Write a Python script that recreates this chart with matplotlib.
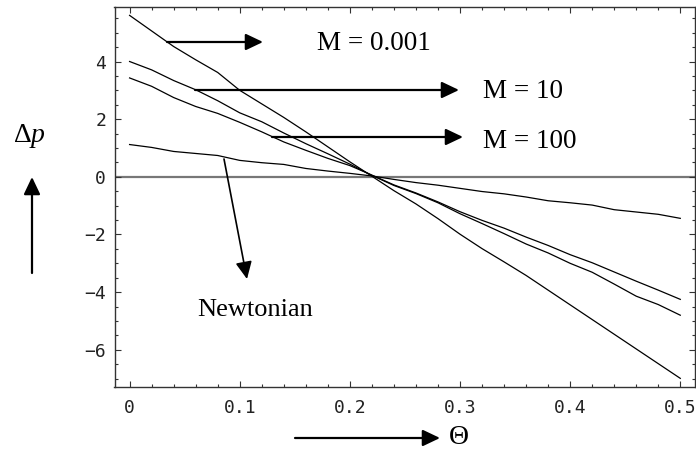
import matplotlib
matplotlib.use("Agg")
import matplotlib.pyplot as plt
from matplotlib.ticker import MultipleLocator

# ---- data ----
theta = [0.00, 0.02, 0.04, 0.06, 0.08, 0.10, 0.12, 0.14, 0.16, 0.18, 0.20, 0.22, 0.24,
         0.26, 0.28, 0.30, 0.32, 0.34, 0.36, 0.38, 0.40, 0.42, 0.44, 0.46, 0.48, 0.50]

dp_M0001 = [5.60, 5.06, 4.52, 4.06, 3.62, 3.00, 2.53, 2.06, 1.56, 1.04, 0.52, 0.02, -0.48,
            -0.94, -1.45, -1.99, -2.49, -2.95, -3.42, -3.93, -4.44, -4.95, -5.46, -5.97, -6.48, -6.99]

dp_M10 = [4.00, 3.71, 3.34, 3.02, 2.64, 2.22, 1.91, 1.52, 1.15, 0.80, 0.44, 0.05, -0.30,
          -0.58, -0.90, -1.28, -1.62, -1.97, -2.33, -2.64, -3.00, -3.31, -3.72, -4.14, -4.43, -4.80]

dp_M100 = [3.43, 3.14, 2.75, 2.44, 2.20, 1.89, 1.56, 1.21, 0.92, 0.64, 0.39, 0.06, -0.28,
           -0.56, -0.87, -1.21, -1.51, -1.78, -2.09, -2.38, -2.70, -2.98, -3.30, -3.62, -3.93, -4.25]

dp_newtonian = [1.12, 1.02, 0.88, 0.81, 0.74, 0.57, 0.49, 0.43, 0.29, 0.20, 0.12, 0.03, -0.09,
                -0.20, -0.29, -0.40, -0.51, -0.59, -0.70, -0.83, -0.90, -0.98, -1.14, -1.22, -1.30, -1.44]

x_ticks = [0.0, 0.1, 0.2, 0.3, 0.4, 0.5]
x_tick_labels = ["0", "0.1", "0.2", "0.3", "0.4", "0.5"]
y_ticks = [-6, -4, -2, 0, 2, 4]
y_tick_labels = ["\u22126", "\u22124", "\u22122", "0", "2", "4"]

label_M0001 = "M = 0.001"
label_M10 = "M = 10"
label_M100 = "M = 100"
label_newt = "Newtonian"
ylabel_text = r"$\Delta\mathit{p}$"
xlabel_text = "\u0398"

# ---- figure ----
W, H = 696, 453
fig = plt.figure(figsize=(W / 100, H / 100), dpi=100)
ax = fig.add_axes([114.5 / W, 1 - 387 / H, (694.6 - 114.5) / W, (387 - 7.3) / H])

def px(x, y):
    """pixel position (from top-left) -> figure fraction"""
    return (x / W, 1 - y / H)

for ys in (dp_M0001, dp_M10, dp_M100, dp_newtonian):
    ax.plot(theta, ys, color="black", lw=0.9, solid_joinstyle="miter")

ax.axhline(0, color="#777777", lw=1.6, zorder=1)

ax.set_xlim(-0.0137, 0.513)
ax.set_ylim(-7.29, 5.88)

ax.set_xticks(x_ticks)
ax.set_xticklabels(x_tick_labels)
ax.set_yticks(y_ticks)
ax.set_yticklabels(y_tick_labels)
ax.xaxis.set_minor_locator(MultipleLocator(0.02))
ax.yaxis.set_minor_locator(MultipleLocator(0.5))

mono = "DejaVu Sans Mono"
ax.tick_params(which="both", direction="in", top=True, right=True,
               color="#333333", width=0.8)
ax.tick_params(which="major", length=4.0)
ax.tick_params(which="minor", length=2.2)
ax.tick_params(axis="x", which="major", pad=8.5)
ax.tick_params(axis="y", which="major", pad=6)
for lab in ax.get_xticklabels() + ax.get_yticklabels():
    lab.set_fontfamily(mono)
    lab.set_fontsize(13)
    lab.set_color("#222222")

for sp in ax.spines.values():
    sp.set_color("#333333")
    sp.set_linewidth(1.0)

serif = ["Liberation Serif", "DejaVu Serif"]
plt.rcParams["mathtext.fontset"] = "custom"
plt.rcParams["mathtext.rm"] = "Liberation Serif"
plt.rcParams["mathtext.it"] = "Liberation Serif:italic"

def arrow(tail, tip, lw=1.6, hl=10.5, hw=5.0):
    fig.patches.append(matplotlib.patches.FancyArrowPatch(
        px(*tail), px(*tip), transform=fig.transFigure,
        arrowstyle=f"-|>,head_length={hl},head_width={hw}",
        mutation_scale=1, lw=lw, color="black", shrinkA=0, shrinkB=0))

# curve-label arrows
arrow((167, 42), (263, 42))
arrow((195, 90), (459, 90))
arrow((272, 137), (463, 137))
arrow((224, 159), (247, 279), lw=1.2)
# axis arrows
arrow((32, 273), (32, 177))
arrow((295, 438), (440, 438))

fig.text(*px(317, 44), label_M0001, family=serif, fontsize=19.5, va="center", ha="left")
fig.text(*px(483, 92), label_M10, family=serif, fontsize=19.5, va="center", ha="left")
fig.text(*px(483, 141), label_M100, family=serif, fontsize=19.5, va="center", ha="left")
fig.text(*px(197, 310), label_newt, family=serif, fontsize=19, va="center", ha="left")
fig.text(*px(29, 136), ylabel_text, fontsize=20, va="center", ha="center")
fig.text(*px(459, 438), xlabel_text, family=serif, fontsize=20, va="center", ha="center")

fig.savefig("out.png", dpi=100)
